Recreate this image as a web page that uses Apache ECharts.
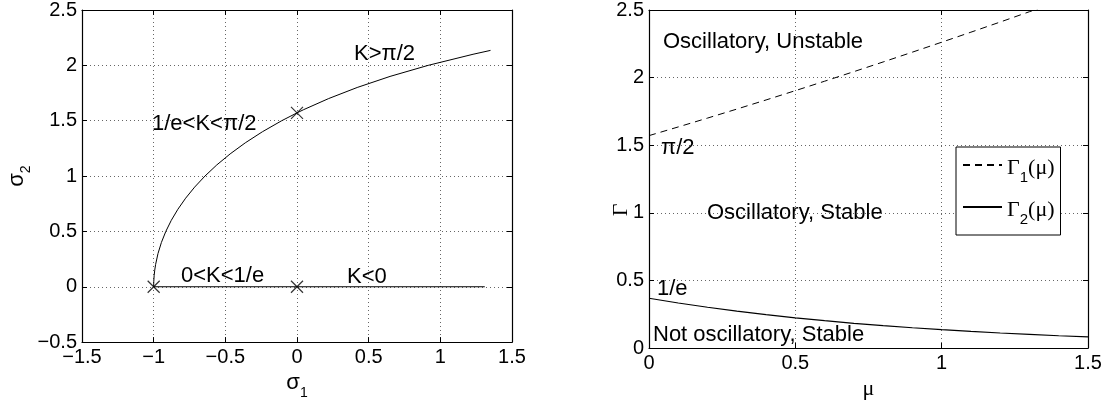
<!DOCTYPE html>
<html><head><meta charset="utf-8">
<script src="https://cdn.jsdelivr.net/npm/echarts@6/dist/echarts.min.js"></script>
<style>html,body{margin:0;padding:0;background:#fff}#c{width:1114px;height:405px}</style>
</head><body><div id="c"></div>
<script>
// ---- Left panel data: root locus (sigma1, sigma2)
const locusSigma1 = [-1, -0.99917, -0.99667, -0.99248, -0.98664, -0.9698, -0.9461, -0.9152, -0.8770, -0.8311, -0.7770, -0.7142, -0.6421, -0.5599, -0.4665, -0.3609, -0.2415, -0.1064, 0, 0.0467, 0.2209, 0.4199, 0.6491, 0.9153, 1.2282, 1.3500];
const locusSigma2 = [0, 0.05, 0.1, 0.15, 0.2, 0.3, 0.4, 0.5, 0.6, 0.7, 0.8, 0.9, 1.0, 1.1, 1.2, 1.3, 1.4, 1.5, 1.5708, 1.6, 1.7, 1.8, 1.9, 2.0, 2.1, 2.135];
const realSigma1 = [-1, 1.31];
const realSigma2 = [0, 0];
const crossSigma1 = [-1, 0, 0];
const crossSigma2 = [0, 0, 1.5708];
// ---- Right panel data
const muG1 = [0, 0.1, 0.2, 0.3, 0.4, 0.5, 0.6, 0.7, 0.8, 0.9, 1.0, 1.1, 1.2, 1.3, 1.4];
const gamma1 = [1.5708, 1.6351, 1.7005, 1.7671, 1.8347, 1.9035, 1.9732, 2.0441, 2.1157, 2.1882, 2.2618, 2.3360, 2.4110, 2.4875, 2.5643];
const muG2 = [0, 0.1, 0.2, 0.3, 0.4, 0.5, 0.6, 0.7, 0.8, 0.9, 1.0, 1.1, 1.2, 1.3, 1.4, 1.5];
const gamma2 = [0.3679, 0.3329, 0.3012, 0.2725, 0.2466, 0.2231, 0.2019, 0.1827, 0.1653, 0.1496, 0.1353, 0.1225, 0.1108, 0.1003, 0.0907, 0.0821];
const seriesNames = ['Γ1(μ)', 'Γ2(μ)'];

const zip = (a, b) => a.map((v, i) => [v, b[i]]);
const SANS = 'Liberation Sans, Arial, Helvetica, sans-serif';
const SERIF = 'Liberation Serif, Times New Roman, serif';
const fmt = v => String(v).replace('-', '\u2212');

function axisPair(kind, gridIndex, min, max, interval, name, nameGap, nameStyle) {
  const common = { type: 'value', gridIndex, min, max, interval };
  const main = Object.assign({}, common, {
    position: kind === 'x' ? 'bottom' : 'left',
    axisLine: { show: true, onZero: false, lineStyle: { color: '#000', width: 1.2 } },
    axisTick: { show: true, inside: true, length: 5, lineStyle: { color: '#000' } },
    axisLabel: { color: '#000', fontFamily: SANS, fontSize: 20, margin: kind === 'x' ? 5 : 5, formatter: fmt },
    splitLine: { show: true, lineStyle: { color: '#666', type: [1, 3], width: 1 } },
    name, nameLocation: 'middle', nameGap, nameTextStyle: nameStyle
  });
  const second = Object.assign({}, common, {
    position: kind === 'x' ? 'top' : 'right',
    axisLine: { show: true, onZero: false, lineStyle: { color: '#000', width: 1.2 } },
    axisTick: { show: true, inside: true, length: 5, lineStyle: { color: '#000' } },
    axisLabel: { show: false },
    splitLine: { show: false }
  });
  return [main, second];
}

const subRich = {
  a: { fontFamily: SANS, fontSize: 22, color: '#000', lineHeight: 26, verticalAlign: 'bottom' },
  b: { fontFamily: SANS, fontSize: 14, color: '#000', lineHeight: 26, verticalAlign: 'bottom', padding: [0, 0, -6, 0] }
};

const leftX = axisPair('x', 0, -1.5, 1.5, 0.5, '{a|σ}{b|1}', 12, { rich: subRich });
const leftY = axisPair('y', 0, -0.5, 2.5, 0.5, '{a|σ}{b|2}', 50, { rich: subRich });
const rightX = axisPair('x', 1, 0, 1.5, 0.5, 'μ', 22, { fontFamily: SERIF, fontSize: 22, color: '#000' });
const rightY = axisPair('y', 1, 0, 2.5, 0.5, '', 0, {});

const annotations = [
  { t: '1/e<K<π/2', x: 152, y: 124 },
  { t: 'K>π/2', x: 354, y: 54 },
  { t: '0<K<1/e', x: 181, y: 276 },
  { t: 'K<0', x: 347, y: 277 },
  { t: 'Oscillatory, Unstable', x: 663, y: 42 },
  { t: 'π/2', x: 661, y: 148 },
  { t: 'Oscillatory, Stable', x: 707, y: 213 },
  { t: '1/e', x: 657, y: 289 },
  { t: 'Not oscillatory, Stable', x: 653, y: 335 }
];

const option = {
  animation: false,
  backgroundColor: '#fff',
  grid: [
    { left: 82, top: 8, width: 430, height: 344 },
    { left: 649, top: 8, width: 439, height: 340 }
  ],
  xAxis: [leftX[0], leftX[1], rightX[0], rightX[1]],
  yAxis: [leftY[0], leftY[1], rightY[0], rightY[1]],
  legend: {
    show: true,
    data: seriesNames,
    orient: 'vertical',
    left: 956, top: 147,
    width: 106,
    backgroundColor: '#fff',
    borderColor: '#000', borderWidth: 1,
    padding: [10, 6, 8, 6],
    itemGap: 14,
    itemWidth: 39, itemHeight: 14,
    itemStyle: { opacity: 0, color: 'rgba(0,0,0,0)', borderWidth: 0 },
    textStyle: {
      color: '#000',
      rich: {
        g: { fontFamily: SERIF, fontSize: 22, color: '#000', lineHeight: 28, verticalAlign: 'bottom' },
        s: { fontFamily: SANS, fontSize: 15, color: '#000', lineHeight: 28, verticalAlign: 'bottom', padding: [0, 0, -6, 0] }
      }
    },
    formatter: n => n === seriesNames[0] ? '{g|Γ}{s|1}{g|(μ)}' : '{g|Γ}{s|2}{g|(μ)}'
  },
  series: [
    { type: 'line', xAxisIndex: 0, yAxisIndex: 0, data: zip(locusSigma1, locusSigma2), symbol: 'none', lineStyle: { color: '#000', width: 1 }, silent: true },
    { type: 'line', xAxisIndex: 0, yAxisIndex: 0, data: zip(realSigma1, realSigma2), symbol: 'none', lineStyle: { color: '#000', width: 1.2 }, silent: true },
    { type: 'scatter', xAxisIndex: 0, yAxisIndex: 0, data: zip(crossSigma1, crossSigma2), symbol: 'path://M0,0L10,10M10,0L0,10', symbolSize: 12,
      itemStyle: { color: 'rgba(0,0,0,0)', borderColor: '#000', borderWidth: 1.2 }, silent: true, z: 5 },
    { name: seriesNames[0], type: 'line', xAxisIndex: 2, yAxisIndex: 2, data: zip(muG1, gamma1), symbol: 'none', clip: true,
      itemStyle: { color: '#000' }, lineStyle: { color: '#000', width: 1, type: [7, 5] }, silent: true },
    { name: seriesNames[1], type: 'line', xAxisIndex: 2, yAxisIndex: 2, data: zip(muG2, gamma2), symbol: 'none', clip: true,
      itemStyle: { color: '#000' }, lineStyle: { color: '#000', width: 1.2 }, silent: true }
  ],
  graphic: annotations.map(a => ({
    type: 'text', x: a.x, y: a.y, silent: true, z: 10,
    style: { text: a.t, fill: '#000', fontFamily: SANS, fontSize: 22, verticalAlign: 'middle', align: 'left' }
  })).concat([{
    type: 'text', x: 621, y: 210, rotation: Math.PI / 2, silent: true, z: 10,
    style: { text: 'Γ', fill: '#000', fontFamily: SERIF, fontSize: 22, verticalAlign: 'middle', align: 'center' }
  }])
};
const chart = echarts.init(document.getElementById('c'), null, { renderer: 'canvas' });
chart.setOption(option);
</script>
</body></html>
